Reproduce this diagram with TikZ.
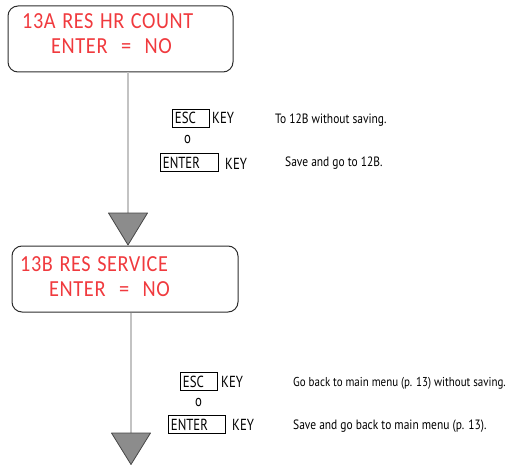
\documentclass[tikz,border=0pt]{standalone}
\usepackage{fontspec}
\usetikzlibrary{calc}
\setmainfont{PT Sans}
\newfontfamily\redf[FakeStretch=0.88,LetterSpace=2.5,WordSpace=1.3]{Carlito}
\newfontfamily\redwide[FakeStretch=0.885,LetterSpace=2.6,WordSpace=2.6]{Carlito}
\newfontfamily\keyf[FakeStretch=0.8]{PT Sans}
\newfontfamily\descf[FakeStretch=0.85]{PT Sans}
\definecolor{lcdred}{RGB}{240,58,62}
\definecolor{framec}{RGB}{45,45,45}
\definecolor{linec}{RGB}{195,195,195}
\definecolor{trifill}{RGB}{140,140,140}
\definecolor{triedge}{RGB}{70,70,70}
\begin{document}
\begin{tikzpicture}[x=1pt,y=-1pt,
  screen/.style={draw=framec, line width=1pt, rounded corners=10pt, minimum width=225pt, minimum height=66pt, inner sep=0pt},
  lcd/.style={anchor=base west, inner sep=0pt, text=lcdred, font=\redf\fontsize{23}{23}\selectfont},
  lcdwide/.style={lcd, font=\redwide\fontsize{23}{23}\selectfont},
  conn/.style={draw=linec, line width=1.4pt},
  tri/.style={fill=trifill, draw=triedge, line width=0.8pt, line join=round},
  keybox/.style={draw=black, line width=0.8pt, anchor=north west, inner xsep=2.5pt, inner ysep=0pt, minimum height=18pt, align=left, font=\keyf\fontsize{16}{16}\selectfont},
  keylbl/.style={anchor=base west, inner sep=0pt, font=\keyf\fontsize{16}{16}\selectfont},
  desc/.style={anchor=base west, inner sep=0pt, font=\descf\fontsize{13.5}{13.5}\selectfont}
]
\useasboundingbox (0,0) rectangle (508,465);

% screens
\node[screen] (s1) at (120.5,39) {};
\node[screen, minimum width=226pt] (s2) at (125,279) {};
\node[lcd] (s1a) at (22,29) {13A RES HR COUNT};
\node[lcdwide] (s1b) at (51,54) {ENTER = NO};
\node[lcd] (s2a) at (20,271) {13B RES SERVICE};
\node[lcdwide] (s2b) at (49,296) {ENTER = NO};

% connectors and arrow triangles
\coordinate (t1) at (128,213);
\coordinate (t2) at (131,433);
\draw[conn] (s1.south -| t1) -- (t1);
\draw[conn] (s2.south -| t2) -- (t2);
\draw[tri] ($(t1)+(-19.5,0)$) -- ($(t1)+(19.5,0)$) -- ($(t1)+(0,32)$) -- cycle;
\draw[tri] ($(t2)+(-19.5,0)$) -- ($(t2)+(19.5,0)$) -- ($(t2)+(0,31.5)$) -- cycle;

% keys, first screen
\node[keybox, text width=32pt] (esc1) at (172,109) {ESC};
\node[keylbl] (k1) at (212,124) {KEY};
\node[keylbl] (o1) at (184,144) {o};
\node[keybox, text width=53pt] (ent1) at (160,153.5) {ENTER};
\node[keylbl] (k2) at (225,169) {KEY};
\node[desc] (d1) at (275,124) {To 12B without saving.};
\node[desc] (d2) at (285,167) {Save and go to 12B.};

% keys, second screen
\node[keybox, text width=32pt] (esc2) at (180,372) {ESC};
\node[keylbl] (k3) at (221,387) {KEY};
\node[keylbl] (o2) at (195,406) {o};
\node[keybox, text width=52pt] (ent2) at (168,415) {ENTER};
\node[keylbl] (k4) at (232,430) {KEY};
\node[desc, font=\descf\fontsize{12.9}{12.9}\selectfont] (d3) at (293,386) {Go back to main menu (p. 13) without saving.};
\node[desc] (d4) at (293,429) {Save and go back to main menu (p. 13).};
\end{tikzpicture}
\end{document}
